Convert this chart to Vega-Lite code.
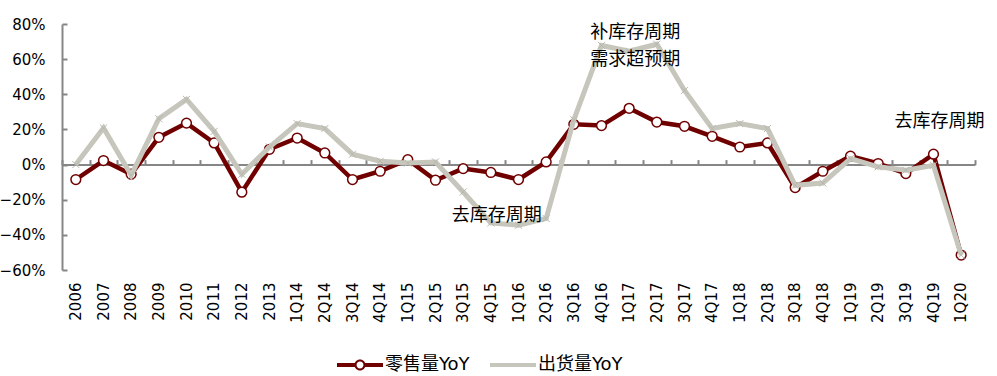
{
  "$schema": "https://vega.github.io/schema/vega-lite/v6.json",
  "width": 913,
  "height": 246,
  "autosize": {"type": "none"},
  "padding": {"left": 62, "top": 24, "right": 22, "bottom": 106},
  "background": "white",
  "config": {
    "view": {"stroke": null},
    "axis": {
      "domainColor": "#868686",
      "tickColor": "#868686",
      "domainWidth": 2,
      "tickWidth": 2,
      "grid": false,
      "labelFont": "DejaVu Sans",
      "labelFontSize": 15,
      "labelColor": "#000000",
      "labelBound": false,
      "title": null
    }
  },
  "datasets": {
    "series": [
      {"period": "2006", "series": "零售量YoY", "value": -8.5},
      {"period": "2007", "series": "零售量YoY", "value": 2.3},
      {"period": "2008", "series": "零售量YoY", "value": -5.5},
      {"period": "2009", "series": "零售量YoY", "value": 15.5},
      {"period": "2010", "series": "零售量YoY", "value": 23.6},
      {"period": "2011", "series": "零售量YoY", "value": 12.3},
      {"period": "2012", "series": "零售量YoY", "value": -15.7},
      {"period": "2013", "series": "零售量YoY", "value": 8.7},
      {"period": "1Q14", "series": "零售量YoY", "value": 15.1},
      {"period": "2Q14", "series": "零售量YoY", "value": 6.6},
      {"period": "3Q14", "series": "零售量YoY", "value": -8.5},
      {"period": "4Q14", "series": "零售量YoY", "value": -3.8},
      {"period": "1Q15", "series": "零售量YoY", "value": 2.8},
      {"period": "2Q15", "series": "零售量YoY", "value": -8.9},
      {"period": "3Q15", "series": "零售量YoY", "value": -2.3},
      {"period": "4Q15", "series": "零售量YoY", "value": -4.5},
      {"period": "1Q16", "series": "零售量YoY", "value": -8.5},
      {"period": "2Q16", "series": "零售量YoY", "value": 1.5},
      {"period": "3Q16", "series": "零售量YoY", "value": 22.9},
      {"period": "4Q16", "series": "零售量YoY", "value": 22.2},
      {"period": "1Q17", "series": "零售量YoY", "value": 32},
      {"period": "2Q17", "series": "零售量YoY", "value": 24.2},
      {"period": "3Q17", "series": "零售量YoY", "value": 21.8},
      {"period": "4Q17", "series": "零售量YoY", "value": 16.1},
      {"period": "1Q18", "series": "零售量YoY", "value": 10},
      {"period": "2Q18", "series": "零售量YoY", "value": 12.3},
      {"period": "3Q18", "series": "零售量YoY", "value": -13.1},
      {"period": "4Q18", "series": "零售量YoY", "value": -3.8},
      {"period": "1Q19", "series": "零售量YoY", "value": 4.8},
      {"period": "2Q19", "series": "零售量YoY", "value": 0.6},
      {"period": "3Q19", "series": "零售量YoY", "value": -5.1},
      {"period": "4Q19", "series": "零售量YoY", "value": 5.9},
      {"period": "1Q20", "series": "零售量YoY", "value": -51.5},
      {"period": "2006", "series": "出货量YoY", "value": 0},
      {"period": "2007", "series": "出货量YoY", "value": 20.8},
      {"period": "2008", "series": "出货量YoY", "value": -6.1},
      {"period": "2009", "series": "出货量YoY", "value": 26.1},
      {"period": "2010", "series": "出货量YoY", "value": 37.1},
      {"period": "2011", "series": "出货量YoY", "value": 18.9},
      {"period": "2012", "series": "出货量YoY", "value": -5.5},
      {"period": "2013", "series": "出货量YoY", "value": 10},
      {"period": "1Q14", "series": "出货量YoY", "value": 23.3},
      {"period": "2Q14", "series": "出货量YoY", "value": 20.5},
      {"period": "3Q14", "series": "出货量YoY", "value": 5.9},
      {"period": "4Q14", "series": "出货量YoY", "value": 1.9},
      {"period": "1Q15", "series": "出货量YoY", "value": 0.9},
      {"period": "2Q15", "series": "出货量YoY", "value": 1.5},
      {"period": "3Q15", "series": "出货量YoY", "value": -15.6},
      {"period": "4Q15", "series": "出货量YoY", "value": -33.2},
      {"period": "1Q16", "series": "出货量YoY", "value": -34.5},
      {"period": "2Q16", "series": "出货量YoY", "value": -30.7},
      {"period": "3Q16", "series": "出货量YoY", "value": 25.5},
      {"period": "4Q16", "series": "出货量YoY", "value": 67.8},
      {"period": "1Q17", "series": "出货量YoY", "value": 64.5},
      {"period": "2Q17", "series": "出货量YoY", "value": 68.5},
      {"period": "3Q17", "series": "出货量YoY", "value": 42.2},
      {"period": "4Q17", "series": "出货量YoY", "value": 20.5},
      {"period": "1Q18", "series": "出货量YoY", "value": 23.3},
      {"period": "2Q18", "series": "出货量YoY", "value": 20.5},
      {"period": "3Q18", "series": "出货量YoY", "value": -11.8},
      {"period": "4Q18", "series": "出货量YoY", "value": -10.5},
      {"period": "1Q19", "series": "出货量YoY", "value": 3.4},
      {"period": "2Q19", "series": "出货量YoY", "value": -1.3},
      {"period": "3Q19", "series": "出货量YoY", "value": -3.2},
      {"period": "4Q19", "series": "出货量YoY", "value": -0.4},
      {"period": "1Q20", "series": "出货量YoY", "value": -51.5}
    ],
    "notes": [
      {"period": "1Q17", "value": 74.6, "text": "补库存周期"},
      {"period": "1Q17", "value": 59.4, "text": "需求超预期"},
      {"period": "4Q15", "value": -29.4, "text": "去库存周期"},
      {"period": "4Q19", "value": 24.2, "text": "去库存周期"}
    ]
  },
  "data": {"name": "series"},
  "resolve": {"axis": {"x": "independent"}},
  "layer": [
    {
      "transform": [{"filter": "datum.series === '零售量YoY'"}],
      "mark": {"type": "line", "strokeWidth": 4.5},
      "encoding": {
        "x": {
          "field": "period", "type": "ordinal", "bandPosition": 0.5,
          "scale": {"type": "band", "paddingInner": 0, "paddingOuter": 0,
            "domain": ["2006","2007","2008","2009","2010","2011","2012","2013","1Q14","2Q14","3Q14","4Q14","1Q15","2Q15","3Q15","4Q15","1Q16","2Q16","3Q16","4Q16","1Q17","2Q17","3Q17","4Q17","1Q18","2Q18","3Q18","4Q18","1Q19","2Q19","3Q19","4Q19","1Q20"]},
          "axis": {"orient": "bottom", "domain": false, "ticks": false, "labelAngle": 270, "labelPadding": 12, "labelOverlap": false}
        },
        "y": {
          "field": "value", "type": "quantitative",
          "scale": {"domain": [-60, 80], "nice": false},
          "axis": {"tickCount": 7, "format": "d", "labelExpr": "datum.label + '%'", "tickSize": -5, "labelPadding": 22, "labelOverlap": false, "labelFlush": false}
        },
        "color": {
          "field": "series", "type": "nominal",
          "scale": {"domain": ["零售量YoY", "出货量YoY"], "range": ["#700000", "#C6C6BC"]},
          "legend": {
            "orient": "none", "legendX": 275, "legendY": 318, "direction": "horizontal", "title": null,
            "symbolSize": 2116, "symbolType": "M-1,-0.09H1V0.09H-1Z", "symbolStrokeWidth": 0,
            "labelFont": "DejaVu Sans, Noto Sans CJK SC", "labelFontSize": 18, "labelColor": "#000000",
            "labelOffset": 2, "columnPadding": 20,
            "encode": {"symbols": {"update": {
              "shape": {"signal": "datum.value === '零售量YoY' ? 'M-1,-0.085H-0.2V0.085H-1Z M0.2,-0.085H1V0.085H0.2Z M-0.24,0A0.24,0.24,0,1,1,0.24,0A0.24,0.24,0,1,1,-0.24,0Z M-0.15,0A0.15,0.15,0,1,0,0.15,0A0.15,0.15,0,1,0,-0.15,0Z' : 'M-1,-0.09H1V0.09H-1Z'"},
              "fill": {"signal": "datum.value === '零售量YoY' ? '#700000' : '#C6C6BC'"},
              "stroke": {"value": "transparent"},
              "strokeWidth": {"value": 0}
            }}}
          }
        }
      }
    },
    {
      "transform": [{"filter": "datum.series === '零售量YoY'"}],
      "mark": {"type": "point", "shape": "circle", "filled": true, "fill": "white", "stroke": "#700000", "strokeWidth": 1.5, "size": 95, "opacity": 1},
      "encoding": {
        "x": {"field": "period", "type": "ordinal", "bandPosition": 0.5, "axis": null},
        "y": {"field": "value", "type": "quantitative"}
      }
    },
    {
      "transform": [{"filter": "datum.series === '出货量YoY'"}],
      "mark": {"type": "line", "strokeWidth": 5, "color": "#C6C6BC"},
      "encoding": {
        "x": {
          "field": "period", "type": "ordinal", "bandPosition": 0.5,
          "axis": {"orient": "bottom", "offset": -105.4, "labels": false, "tickSize": -5, "tickBand": "extent", "domain": true}
        },
        "y": {"field": "value", "type": "quantitative"}
      }
    },
    {
      "transform": [{"filter": "datum.series === '出货量YoY'"}],
      "mark": {"type": "point", "shape": "M-1,-1L1,1M-1,1L1,-1", "filled": false, "stroke": "#B8B8AE", "strokeWidth": 1, "size": 50, "opacity": 1},
      "encoding": {
        "x": {"field": "period", "type": "ordinal", "bandPosition": 0.5, "axis": null},
        "y": {"field": "value", "type": "quantitative"}
      }
    },
    {
      "data": {"name": "notes"},
      "mark": {"type": "text", "font": "Noto Sans CJK SC", "fontSize": 18, "color": "#000000", "dx": 6, "align": "center", "baseline": "middle"},
      "encoding": {
        "x": {"field": "period", "type": "ordinal", "bandPosition": 0.5, "axis": null},
        "y": {"field": "value", "type": "quantitative"},
        "text": {"field": "text"}
      }
    }
  ]
}
